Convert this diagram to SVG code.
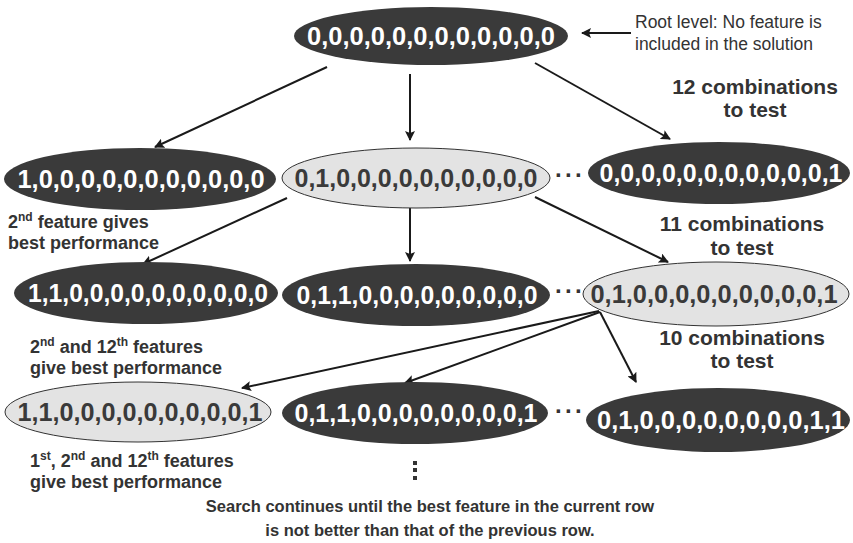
<svg xmlns="http://www.w3.org/2000/svg" width="853" height="543" viewBox="0 0 853 543">
<defs>
<marker id="ah" viewBox="0 0 10 10" refX="9" refY="5" markerWidth="5" markerHeight="5" orient="auto" markerUnits="strokeWidth">
<path d="M0,0 L10,5 L0,10 L2,5 z" fill="#1a1a1a"/>
</marker>
<style>
.dark{fill:#3a3a3a;stroke:none}
.light{fill:#e3e3e3;stroke:#333;stroke-width:1}
.nt{font-family:"Liberation Sans",Arial,sans-serif;font-weight:bold;font-size:26px;text-anchor:middle}
.nd{fill:#fff}
.nl{fill:#3a3a3a}
.lb{font-family:"Liberation Sans",Arial,sans-serif;font-weight:bold;font-size:18px;fill:#333}
.cm{font-family:"Liberation Sans",Arial,sans-serif;font-weight:bold;font-size:21px;fill:#333;text-anchor:middle}
.an{font-family:"Liberation Sans",Arial,sans-serif;font-size:17.5px;fill:#333}
.ft{font-family:"Liberation Sans",Arial,sans-serif;font-weight:bold;font-size:16.5px;fill:#333;text-anchor:middle}
.dots{font-family:"Liberation Sans",Arial,sans-serif;font-weight:bold;font-size:24px;fill:#333;letter-spacing:2px}
.sup{font-size:12px}
.edge{stroke:#1a1a1a;stroke-width:2;fill:none;marker-end:url(#ah)}
</style>
</defs>
<rect width="853" height="543" fill="#fff"/>

<g id="connectors">
<line class="edge" x1="327" y1="67" x2="155" y2="147"/>
<line class="edge" x1="410" y1="74" x2="410" y2="140"/>
<line class="edge" x1="535" y1="63" x2="670" y2="139"/>
<line class="edge" x1="631" y1="33" x2="582" y2="33"/>
<line class="edge" x1="287" y1="198" x2="143" y2="264"/>
<line class="edge" x1="410" y1="207" x2="410" y2="261"/>
<line class="edge" x1="535" y1="197" x2="668" y2="262"/>
<line class="edge" x1="599" y1="311" x2="242" y2="388"/>
<line class="edge" x1="600" y1="312" x2="405" y2="383"/>
<line class="edge" x1="600" y1="312" x2="636" y2="382"/>
</g>

<g id="root">
<ellipse class="dark" cx="431" cy="36" rx="137" ry="29"/>
<text class="nt nd" x="431" y="45" textLength="248" lengthAdjust="spacingAndGlyphs">0,0,0,0,0,0,0,0,0,0,0,0</text>
</g>
<g id="root-note">
<text class="an" x="635" y="28">Root level: No feature is</text>
<text class="an" x="635" y="50">included in the solution</text>
</g>
<g id="count12">
<text class="cm" x="755" y="94">12 combinations</text>
<text class="cm" x="755" y="117">to test</text>
</g>

<g id="n-a">
<ellipse class="dark" cx="140" cy="179" rx="136" ry="31"/>
<text class="nt nd" x="141" y="188" textLength="247" lengthAdjust="spacingAndGlyphs">1,0,0,0,0,0,0,0,0,0,0,0</text>
</g>
<g id="n-b">
<ellipse class="light" cx="416" cy="178" rx="134" ry="30"/>
<text class="nt nl" x="416" y="187" textLength="243" lengthAdjust="spacingAndGlyphs">0,1,0,0,0,0,0,0,0,0,0,0</text>
</g>
<text class="dots" x="555" y="183">···</text>
<g id="n-c">
<ellipse class="dark" cx="719" cy="173" rx="131" ry="31"/>
<text class="nt nd" x="721" y="182" textLength="243" lengthAdjust="spacingAndGlyphs">0,0,0,0,0,0,0,0,0,0,0,1</text>
</g>
<g id="label-a">
<text class="lb" x="8" y="228">2<tspan class="sup" dy="-7">nd</tspan><tspan dy="7"> feature gives</tspan></text>
<text class="lb" x="8" y="249">best performance</text>
</g>
<g id="count11">
<text class="cm" x="742" y="231">11 combinations</text>
<text class="cm" x="742" y="255">to test</text>
</g>

<g id="n-d">
<ellipse class="dark" cx="146" cy="293" rx="132" ry="31"/>
<text class="nt nd" x="148" y="302" textLength="240" lengthAdjust="spacingAndGlyphs">1,1,0,0,0,0,0,0,0,0,0,0</text>
</g>
<g id="n-e">
<ellipse class="dark" cx="416" cy="295" rx="134" ry="31"/>
<text class="nt nd" x="417" y="304" textLength="241" lengthAdjust="spacingAndGlyphs">0,1,1,0,0,0,0,0,0,0,0,0</text>
</g>
<text class="dots" x="555" y="299">···</text>
<g id="n-f">
<ellipse class="light" cx="716" cy="294" rx="133" ry="32"/>
<text class="nt nl" x="714" y="303" textLength="247" lengthAdjust="spacingAndGlyphs">0,1,0,0,0,0,0,0,0,0,0,1</text>
</g>
<g id="label-d">
<text class="lb" x="30" y="353">2<tspan class="sup" dy="-7">nd</tspan><tspan dy="7"> and 12</tspan><tspan class="sup" dy="-7">th</tspan><tspan dy="7"> features</tspan></text>
<text class="lb" x="30" y="374">give best performance</text>
</g>
<g id="count10">
<text class="cm" x="742" y="345">10 combinations</text>
<text class="cm" x="742" y="368">to test</text>
</g>

<g id="n-g">
<ellipse class="light" cx="138" cy="412" rx="133" ry="30"/>
<text class="nt nl" x="140" y="421" textLength="245" lengthAdjust="spacingAndGlyphs">1,1,0,0,0,0,0,0,0,0,0,1</text>
</g>
<g id="n-h">
<ellipse class="dark" cx="415" cy="413" rx="133" ry="31"/>
<text class="nt nd" x="416" y="422" textLength="243" lengthAdjust="spacingAndGlyphs">0,1,1,0,0,0,0,0,0,0,0,1</text>
</g>
<text class="dots" x="555" y="419">···</text>
<g id="n-i">
<ellipse class="dark" cx="718" cy="420" rx="132" ry="32"/>
<text class="nt nd" x="721" y="429" textLength="248" lengthAdjust="spacingAndGlyphs">0,1,0,0,0,0,0,0,0,0,1,1</text>
</g>
<g id="label-g">
<text class="lb" x="30" y="467">1<tspan class="sup" dy="-7">st</tspan><tspan dy="7">, 2</tspan><tspan class="sup" dy="-7">nd</tspan><tspan dy="7"> and 12</tspan><tspan class="sup" dy="-7">th</tspan><tspan dy="7"> features</tspan></text>
<text class="lb" x="30" y="488">give best performance</text>
</g>
<g id="vdots">
<rect x="413" y="461" width="4" height="4" fill="#333"/>
<rect x="413" y="468" width="4" height="4" fill="#333"/>
<rect x="413" y="476" width="4" height="4" fill="#333"/>
</g>
<g id="footer">
<text class="ft" x="430" y="512">Search continues until the best feature in the current row</text>
<text class="ft" x="430" y="536">is not better than that of the previous row.</text>
</g>
</svg>
